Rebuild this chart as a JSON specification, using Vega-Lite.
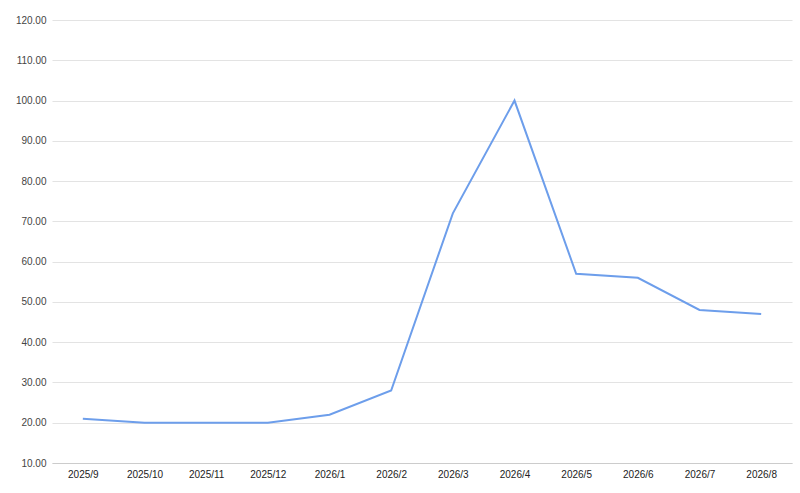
{
  "$schema": "https://vega.github.io/schema/vega-lite/v6.json",
  "autosize": {"type": "none"},
  "padding": {"left": 52, "top": 20, "right": 8, "bottom": 30},
  "width": 740,
  "height": 443,
  "background": "white",
  "config": {
    "view": {"stroke": null},
    "font": "Liberation Sans"
  },
  "data": {
    "values": [
      {"month": "2025/9", "value": 21},
      {"month": "2025/10", "value": 20},
      {"month": "2025/11", "value": 20},
      {"month": "2025/12", "value": 20},
      {"month": "2026/1", "value": 22},
      {"month": "2026/2", "value": 28},
      {"month": "2026/3", "value": 72},
      {"month": "2026/4", "value": 100},
      {"month": "2026/5", "value": 57},
      {"month": "2026/6", "value": 56},
      {"month": "2026/7", "value": 48},
      {"month": "2026/8", "value": 47}
    ]
  },
  "mark": {"type": "line", "color": "#6d9eeb", "strokeWidth": 2},
  "encoding": {
    "x": {
      "field": "month",
      "type": "ordinal",
      "sort": null,
      "scale": {"type": "point", "padding": 0.5},
      "axis": {
        "title": null,
        "labelAngle": 0,
        "ticks": false,
        "grid": false,
        "domain": true,
        "domainColor": "#cccccc",
        "domainWidth": 1,
        "labelFontSize": 10,
        "labelColor": "#222222",
        "labelPadding": 6
      }
    },
    "y": {
      "field": "value",
      "type": "quantitative",
      "scale": {"domain": [10, 120], "nice": false, "zero": false},
      "axis": {
        "title": null,
        "values": [10, 20, 30, 40, 50, 60, 70, 80, 90, 100, 110, 120],
        "format": ".2f",
        "ticks": false,
        "domain": false,
        "grid": true,
        "gridColor": "#e3e3e3",
        "labelFontSize": 10,
        "labelColor": "#444444",
        "labelPadding": 6
      }
    }
  }
}
